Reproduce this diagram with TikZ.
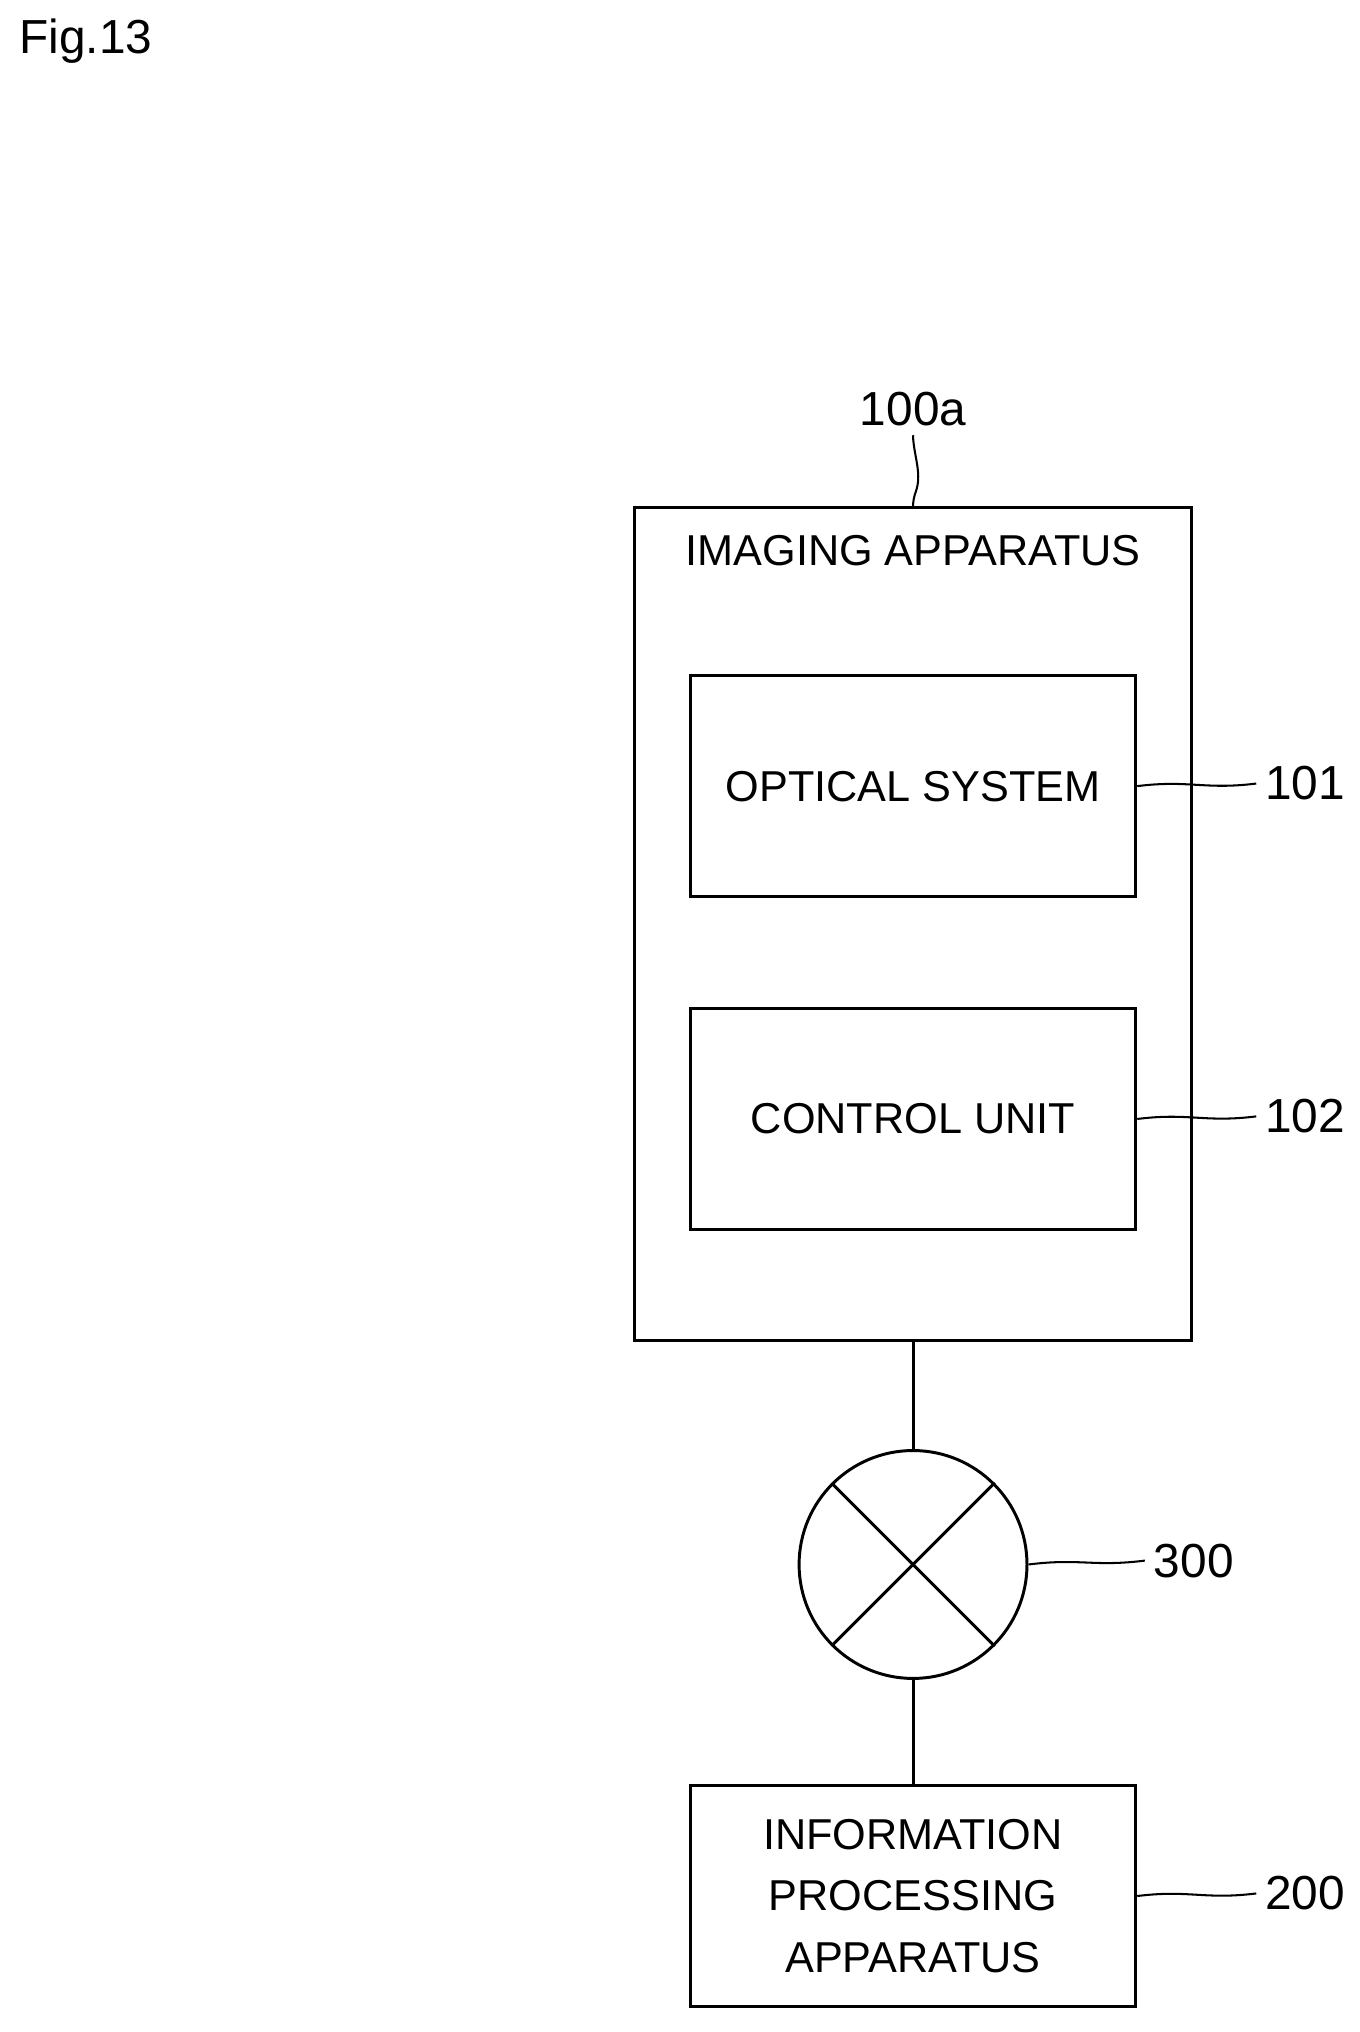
\documentclass[tikz,border=0pt]{standalone}
\usepackage{fontspec}
\setmainfont{Liberation Sans}
\usetikzlibrary{positioning}
\tikzstyle{unitBox} = [rectangle, draw, line width=1.3pt, minimum width=6.88cm, minimum height=3.42cm, align=center, font=\fontsize{19}{27}\selectfont]
\tikzstyle{refLabel} = [font=\fontsize{21}{26}\selectfont]
\tikzstyle{leader} = [draw, line width=0.9pt]

\begin{document}
\begin{tikzpicture}[x=0.02cm, y=-0.02cm, line width=1.3pt]
    \useasboundingbox (0,0) rectangle (1050,1569);
    % Place nodes
    \node[anchor=west, font=\fontsize{21}{26}\selectfont] (figLabel) at (8,32) {Fig.13};
    \draw (490,392) rectangle (920,1035);
    \coordinate (outerTop) at (705,392);
    \coordinate (outerBottom) at (705,1035);
    \node[font=\fontsize{19}{24}\selectfont] (imaging) at (705,425) {IMAGING APPARATUS};
    \node[unitBox] (optical) at (705,607) {OPTICAL SYSTEM};
    \node[unitBox] (control) at (705,864) {CONTROL UNIT};
    \node[draw, circle, minimum size=3.52cm, inner sep=0pt] (network) at (705,1208) {};
    \node[unitBox] (infoProc) at (705,1464) {INFORMATION\\PROCESSING\\APPARATUS};

    \node[refLabel] (refImaging) at (705,316) {100a};
    \node[refLabel, anchor=west] (refOptical) at (970,605) {101};
    \node[refLabel, anchor=west] (refControl) at (970,862) {102};
    \node[refLabel, anchor=west] (refNetwork) at (884,1205) {300};
    \node[refLabel, anchor=west] (refInfo) at (970,1462) {200};

    % Connections
    \draw (outerBottom) -- (network.north);
    \draw (network.south) -- (infoProc.north);
    \draw (network.north east) -- (network.south west);
    \draw (network.north west) -- (network.south east);

    % Leaders
    \path[leader] (outerTop) .. controls +(0,-12) and +(0,12) .. ++(4,-24) .. controls +(0,-10) and +(0,10) .. (refImaging.south);
    \path[leader] (optical.east) .. controls +(40,-5) and +(-40,5) .. (refOptical.west);
    \path[leader] (control.east) .. controls +(40,-5) and +(-40,5) .. (refControl.west);
    \path[leader] (network.east) .. controls +(40,-5) and +(-40,5) .. (refNetwork.west);
    \path[leader] (infoProc.east) .. controls +(40,-5) and +(-40,5) .. (refInfo.west);
\end{tikzpicture}
\end{document}
